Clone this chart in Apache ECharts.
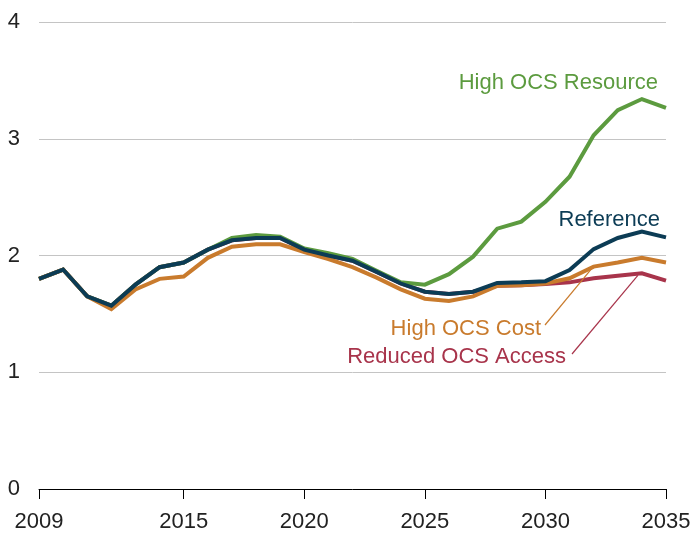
<!DOCTYPE html>
<html>
<head>
<meta charset="utf-8">
<script src="https://cdn.jsdelivr.net/npm/echarts@6/dist/echarts.min.js"></script>
<style>
  html, body { margin: 0; padding: 0; background: #fff; }
  #chart { width: 695px; height: 533px; }
</style>
</head>
<body>
<div id="chart"></div>
<script>
const years = [];
for (let y = 2009; y <= 2035; y++) years.push(y);

const reference = [1.80, 1.88, 1.65, 1.57, 1.75, 1.90, 1.94, 2.05, 2.13, 2.15, 2.15, 2.05, 2.00, 1.955,
    1.86, 1.76, 1.69, 1.67, 1.69, 1.765, 1.77, 1.78, 1.875, 2.055, 2.15, 2.205, 2.155];
const highResource = [1.80, 1.88, 1.65, 1.57, 1.75, 1.90, 1.94, 2.05, 2.15, 2.175, 2.16, 2.06, 2.02, 1.97,
    1.87, 1.77, 1.75, 1.84, 1.99, 2.23, 2.29, 2.46, 2.675, 3.03, 3.245, 3.34, 3.265];
const highCost = [1.80, 1.88, 1.65, 1.54, 1.71, 1.80, 1.82, 1.98, 2.075, 2.096, 2.096, 2.03, 1.97, 1.90,
    1.81, 1.71, 1.63, 1.61, 1.65, 1.74, 1.745, 1.76, 1.805, 1.905, 1.94, 1.98, 1.94];
const reducedAccess = [1.80, 1.88, 1.65, 1.57, 1.75, 1.90, 1.94, 2.05, 2.13, 2.15, 2.15, 2.05, 2.00, 1.955,
    1.86, 1.76, 1.69, 1.67, 1.69, 1.74, 1.745, 1.755, 1.77, 1.805, 1.827, 1.847, 1.785];

const xTicks = [2009, 2015, 2020, 2025, 2030, 2035];
const yTicks = [0, 1, 2, 3, 4];

const colors = {
    resource: '#5c9b3f',
    reference: '#0c3c55',
    cost: '#c97b2d',
    access: '#a8344b'
};

const pair = (vals) => years.map((y, i) => [y, vals[i]]);

const chart = echarts.init(document.getElementById('chart'), null, { renderer: 'canvas' });

const font = "'Liberation Sans', Arial, sans-serif";

const lineSeries = (name, vals, color, z) => ({
    name: name,
    type: 'line',
    data: pair(vals),
    symbol: 'none',
    z: z,
    lineStyle: { color: color, width: 4, join: 'miter' },
    animation: false
});

chart.setOption({
    animation: false,
    grid: { left: 39, right: 29, top: 22, bottom: 44 },
    xAxis: {
        type: 'value',
        min: 2009,
        max: 2035,
        axisLine: { show: true, lineStyle: { color: '#000', width: 1 } },
        axisTick: { show: true, length: 10, customValues: xTicks, lineStyle: { color: '#000' } },
        axisLabel: {
            customValues: xTicks,
            margin: 22,
            fontSize: 22,
            color: '#222',
            fontFamily: font,
            formatter: v => String(v)
        },
        splitLine: { show: false }
    },
    yAxis: {
        type: 'value',
        min: yTicks[0],
        max: yTicks[yTicks.length - 1],
        interval: 1,
        axisLine: { show: false },
        axisTick: { show: false },
        axisLabel: { margin: 19, fontSize: 22, color: '#222', fontFamily: font },
        splitLine: { lineStyle: { color: '#c4c4c4', width: 1 } }
    },
    series: [
        lineSeries('Reduced OCS Access', reducedAccess, colors.access, 2),
        lineSeries('High OCS Resource', highResource, colors.resource, 3),
        lineSeries('High OCS Cost', highCost, colors.cost, 4),
        lineSeries('Reference', reference, colors.reference, 5)
    ]
});

// labels and leader lines
const costEnd = chart.convertToPixel({ gridIndex: 0 }, [2032, highCost[years.indexOf(2032)]]);
const accessEnd = chart.convertToPixel({ gridIndex: 0 }, [2034, reducedAccess[years.indexOf(2034)]]);

const label = (text, x, y, color) => ({
    type: 'text',
    right: 695 - x,
    top: y - 12,
    style: { text: text, fill: color, fontSize: 22, fontFamily: font },
    z: 10
});

chart.setOption({
    graphic: [
        label('High OCS Resource', 658, 84, colors.resource),
        label('Reference', 660, 221, colors.reference),
        label('High OCS Cost', 541, 330, colors.cost),
        label('Reduced OCS Access', 566, 358, colors.access),
        {
            type: 'line',
            shape: { x1: 545, y1: 325, x2: costEnd[0] - 2, y2: costEnd[1] + 2 },
            style: { stroke: colors.cost, lineWidth: 1.2 },
            z: 10
        },
        {
            type: 'line',
            shape: { x1: 572, y1: 354, x2: accessEnd[0] - 4, y2: accessEnd[1] + 2 },
            style: { stroke: colors.access, lineWidth: 1.2 },
            z: 10
        }
    ]
});
</script>
</body>
</html>
